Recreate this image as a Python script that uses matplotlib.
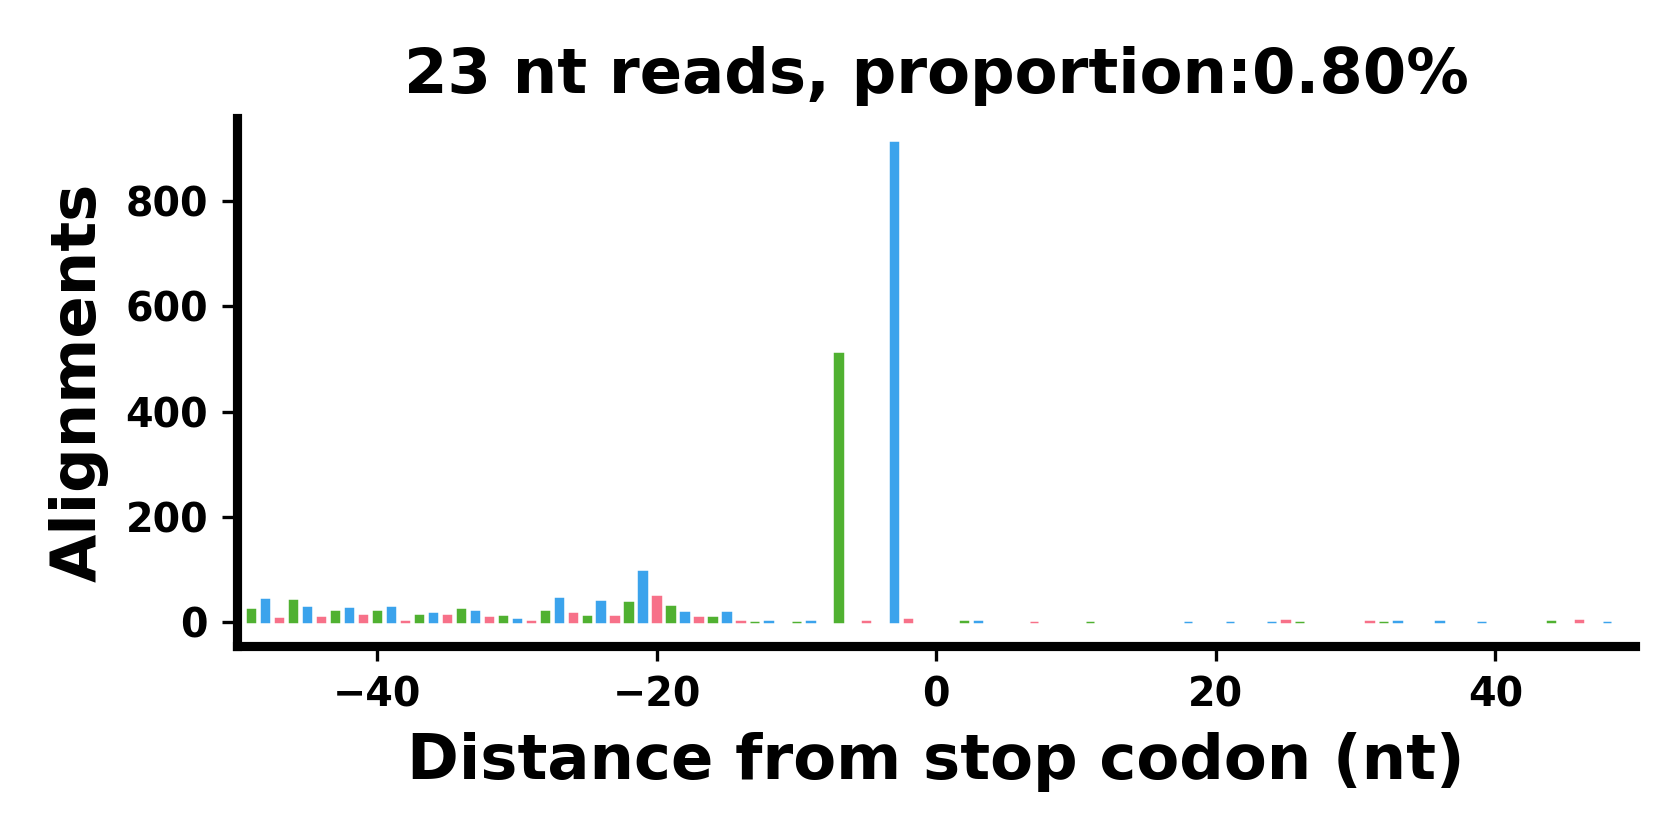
import matplotlib
matplotlib.use('Agg')
import matplotlib.pyplot as plt

# distance from stop codon (nt) and read counts at each position
positions = list(range(-49, 50))
counts = [
    26, 45, 8, 43, 29, 10, 21, 28, 15, 22,   # -49 .. -40
    30, 2, 15, 18, 15, 25, 22, 11, 12, 6,    # -39 .. -30
    3, 22, 47, 18, 13, 40, 13, 38, 98, 51,   # -29 .. -20
    32, 19, 11, 11, 20, 2, 1, 3, 0, 1,       # -19 .. -10
    2, 0, 511, 0, 2, 0, 912, 7, 0,           # -9 .. -1
    0,                                       # 0
    0, 2, 2, 0, 0, 0, 1, 0, 0, 0,            # 1 .. 10
    1, 0, 0, 0, 0, 0, 0, 1, 0, 0,            # 11 .. 20
    1, 0, 0, 1, 5, 1, 0, 0, 0, 0,            # 21 .. 30
    2, 1, 2, 0, 0, 3, 0, 0, 1, 0,            # 31 .. 40
    0, 0, 0, 3, 0, 5, 0, 1, 0,               # 41 .. 49
]
title = "23 nt reads, proportion:0.80%"

frame_colors = ['#50b131', '#3ba3ec', '#f77189']
colors = [frame_colors[i % 3] for i in range(len(positions))]
# zero-count positions get no outline, so nothing shows there
edges = [c if v > 0 else 'none' for c, v in zip(colors, counts)]

fig = plt.figure(figsize=(5.6, 2.8), dpi=300)
ax = fig.add_axes([0.1412, 0.2304, 0.8321, 0.6294])
ax.bar(positions, counts, width=0.6, color=colors, edgecolor=edges, linewidth=0.35)

ax.set_xlim(-50, 50)
top = max(counts)
ax.set_ylim(-0.05 * top, 1.05 * top)
ax.set_title(title, fontsize=15, fontweight='bold')
ax.set_xlabel("Distance from stop codon (nt)", fontsize=15, fontweight='bold')
ax.set_ylabel("Alignments", fontsize=15, fontweight='bold', labelpad=4)
ax.set_yticks([0, 200, 400, 600, 800])
ax.tick_params(labelsize=9.5)
for lab in ax.get_xticklabels() + ax.get_yticklabels():
    lab.set_fontweight('bold')
ax.spines['top'].set_visible(False)
ax.spines['right'].set_visible(False)
ax.spines['left'].set_linewidth(2.2)
ax.spines['bottom'].set_linewidth(2.2)

fig.savefig('out.png', dpi=300)
